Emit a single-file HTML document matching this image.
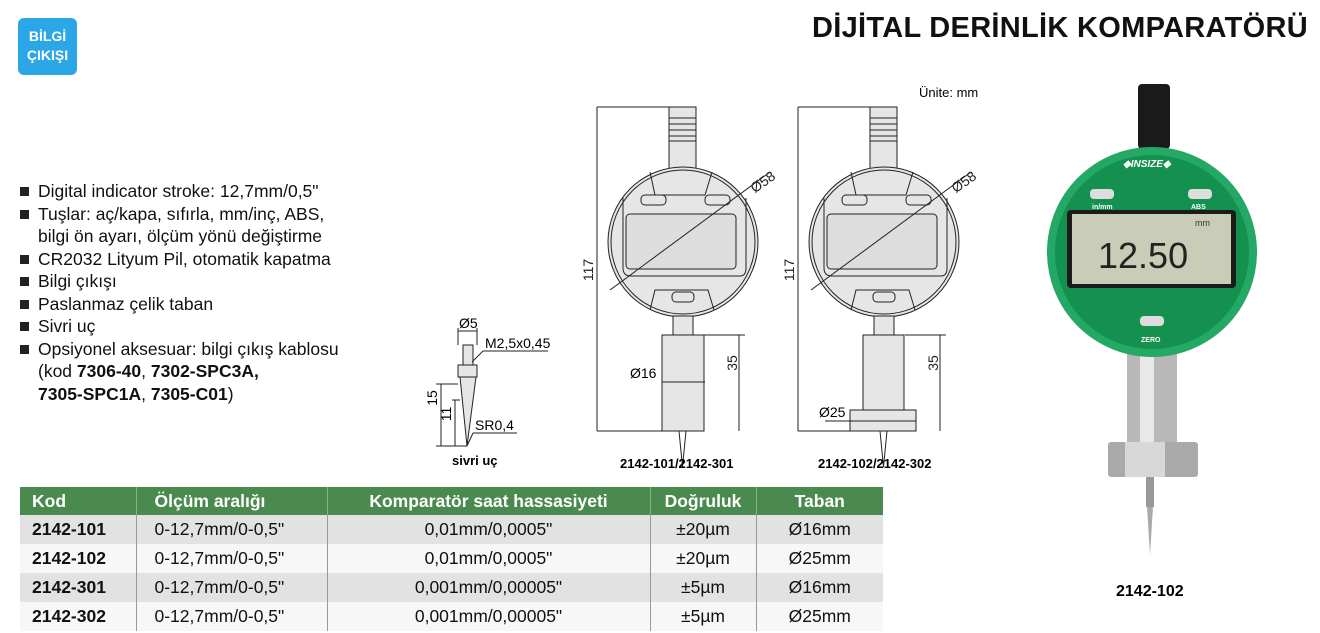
<!DOCTYPE html>
<html><head><meta charset="utf-8"><style>
body{margin:0;width:1320px;height:633px;background:#fff;position:relative;overflow:hidden;font-family:"Liberation Sans",sans-serif;color:#111}
.badge{position:absolute;left:18px;top:18px;width:59px;height:57px;background:#2ba6e6;border-radius:6px;color:#fff;font-weight:bold;font-size:14px;text-align:center;line-height:19px;padding-top:9px;box-sizing:border-box}
.title{position:absolute;right:12px;top:12px;font-size:29px;font-weight:bold;letter-spacing:0.3px}
ul{position:absolute;left:18px;top:180px;margin:0;padding:0;list-style:none;font-size:17.5px;line-height:22.5px}
li{padding-left:20px;position:relative}
li.b:before{content:"";position:absolute;left:2px;top:7px;width:9px;height:9px;background:#222}
table{position:absolute;left:20px;top:487px;border-collapse:collapse;font-size:17.5px;table-layout:fixed;width:863px}
td,th{height:29px;padding:0;text-align:center;box-sizing:border-box;white-space:nowrap;overflow:hidden}
th{background:#4b8a4f;color:#fff;font-weight:bold;height:28px}
td+td{border-left:1px solid #999}
th+th{border-left:1px solid #8ab08c}
tr.g td{background:#e2e2e2}
tr.w td{background:#f7f7f7}
td:first-child{font-weight:bold;text-align:left;padding-left:12px}
</style></head><body>
<div class="badge">BİLGİ<br>ÇIKIŞI</div>
<div class="title">DİJİTAL DERİNLİK KOMPARATÖRÜ</div>
<ul>
<li class="b">Digital indicator stroke: 12,7mm/0,5"</li>
<li class="b">Tuşlar: aç/kapa, sıfırla, mm/inç, ABS,</li>
<li>bilgi ön ayarı, ölçüm yönü değiştirme</li>
<li class="b">CR2032 Lityum Pil, otomatik kapatma</li>
<li class="b">Bilgi çıkışı</li>
<li class="b">Paslanmaz çelik taban</li>
<li class="b">Sivri uç</li>
<li class="b">Opsiyonel aksesuar: bilgi çıkış kablosu</li>
<li>(kod <b>7306-40</b>, <b>7302-SPC3A,</b></li>
<li><b>7305-SPC1A</b>, <b>7305-C01</b>)</li>
</ul>
<table>
<colgroup><col style="width:116px"><col style="width:191px"><col style="width:323px"><col style="width:106px"><col style="width:127px"></colgroup>
<tr><th style="text-align:left;padding-left:12px">Kod</th><th style="text-align:left;padding-left:18px">Ölçüm aralığı</th><th>Komparatör saat hassasiyeti</th><th>Doğruluk</th><th>Taban</th></tr>
<tr class="g"><td>2142-101</td><td style="text-align:left;padding-left:18px">0-12,7mm/0-0,5"</td><td>0,01mm/0,0005"</td><td>±20µm</td><td>Ø16mm</td></tr>
<tr class="w"><td>2142-102</td><td style="text-align:left;padding-left:18px">0-12,7mm/0-0,5"</td><td>0,01mm/0,0005"</td><td>±20µm</td><td>Ø25mm</td></tr>
<tr class="g"><td>2142-301</td><td style="text-align:left;padding-left:18px">0-12,7mm/0-0,5"</td><td>0,001mm/0,00005"</td><td>±5µm</td><td>Ø16mm</td></tr>
<tr class="w"><td>2142-302</td><td style="text-align:left;padding-left:18px">0-12,7mm/0-0,5"</td><td>0,001mm/0,00005"</td><td>±5µm</td><td>Ø25mm</td></tr>
</table>
<svg width="1320" height="633" style="position:absolute;left:0;top:0" font-family="Liberation Sans,sans-serif">
<defs>
<g id="gauge" stroke="#222" fill="#e6e6e6" stroke-width="1">
<rect x="669" y="107" width="27" height="62"/>
<line x1="669" y1="118" x2="696" y2="118"/><line x1="669" y1="124" x2="696" y2="124"/><line x1="669" y1="130" x2="696" y2="130"/><line x1="669" y1="136" x2="696" y2="136"/><line x1="669" y1="141" x2="696" y2="141"/>
<circle cx="683" cy="242" r="75"/>
<circle cx="683" cy="242" r="72" fill="none"/>
<path d="M650 172 L655 195 L705 195 L712 172" fill="none"/>
<rect x="641" y="195" width="25" height="10" rx="4" fill="#e6e6e6"/><rect x="705" y="195" width="25" height="10" rx="4"/>
<path d="M623 198 L623 268 Q623 276 631 276 L740 276 Q746 276 746 268 L746 198" fill="none"/>
<rect x="626" y="214" width="110" height="55" rx="4" fill="#ddd"/>
<path d="M650 310 L655 290 L708 290 L714 310" fill="none"/>
<rect x="672" y="292" width="22" height="10" rx="4"/>
<rect x="673" y="316" width="20" height="19"/>
<line x1="610" y1="290" x2="770" y2="172"/>
<text x="748" y="188" font-size="14" fill="#222" stroke="none" transform="rotate(-35 760 180)">Ø58</text>
<line x1="597" y1="107" x2="669" y2="107"/>
<line x1="597" y1="107" x2="597" y2="431"/>
<text x="593" y="270" font-size="14" fill="#222" stroke="none" transform="rotate(-90 593 270)" text-anchor="middle">117</text>
<path d="M678 431 L687 431 L687 414 L678 414Z" fill="#bbb"/>
<path d="M679 431 L686 431 L682.5 467Z" fill="#fff"/>
<line x1="704" y1="335" x2="745" y2="335"/>
<line x1="739" y1="335" x2="739" y2="431"/>
<text x="737" y="363" font-size="14" fill="#222" stroke="none" transform="rotate(-90 737 363)" text-anchor="middle">35</text>
</g>
</defs>
<use href="#gauge"/>
<use href="#gauge" x="201"/>
<g stroke="#222" fill="#e6e6e6">
<rect x="662" y="335" width="42" height="96"/>
<line x1="597" y1="431" x2="704" y2="431"/>
<line x1="662" y1="382" x2="705" y2="382"/>
<rect x="863" y="335" width="41" height="75"/>
<rect x="850" y="410" width="66" height="21"/>
<line x1="798" y1="431" x2="916" y2="431"/>
<line x1="825" y1="421" x2="916" y2="421"/>
</g>
<text x="630" y="378" font-size="14">Ø16</text>
<text x="819" y="417" font-size="14">Ø25</text>
<text x="620" y="468" font-size="13" font-weight="bold">2142-101/2142-301</text>
<text x="818" y="468" font-size="13" font-weight="bold">2142-102/2142-302</text>
<text x="919" y="97" font-size="13">Ünite: mm</text>
<g stroke="#222" fill="#e6e6e6">
<line x1="458" y1="328" x2="458" y2="345"/><line x1="477" y1="328" x2="477" y2="345"/>
<line x1="458" y1="331" x2="477" y2="331"/>
<rect x="463" y="345" width="10" height="20"/>
<rect x="458" y="365" width="19" height="12"/>
<path d="M460 377 L476 377 L467 446Z"/>
<line x1="472" y1="362" x2="483" y2="351"/><line x1="483" y1="351" x2="548" y2="351"/>
<line x1="436" y1="384" x2="458" y2="384"/><line x1="441" y1="384" x2="441" y2="446"/>
<line x1="452" y1="400" x2="460" y2="400"/><line x1="455" y1="400" x2="455" y2="446"/>
<line x1="436" y1="446" x2="467" y2="446"/>
<line x1="467" y1="446" x2="473" y2="433"/><line x1="473" y1="433" x2="517" y2="433"/>
</g>
<text x="459" y="328" font-size="14">Ø5</text>
<text x="485" y="348" font-size="14">M2,5x0,45</text>
<text x="475" y="430" font-size="14">SR0,4</text>
<text x="437" y="398" font-size="14" transform="rotate(-90 437 398)" text-anchor="middle">15</text>
<text x="451" y="414" font-size="14" transform="rotate(-90 451 414)" text-anchor="middle">11</text>
<text x="452" y="465" font-size="13" font-weight="bold">sivri uç</text>
<rect x="1138" y="84" width="32" height="65" rx="4" fill="#1a1a1a"/>
<rect x="1127" y="350" width="50" height="95" fill="#b8b8b8"/>
<rect x="1140" y="350" width="14" height="95" fill="#e8e8e8"/>
<rect x="1108" y="442" width="90" height="35" rx="3" fill="#aaa"/>
<rect x="1125" y="442" width="40" height="35" fill="#d8d8d8"/>
<rect x="1146" y="477" width="8" height="30" fill="#999"/>
<path d="M1147 507 L1153 507 L1150 555Z" fill="#aaa"/>
<circle cx="1152" cy="252" r="105" fill="#23a866"/>
<circle cx="1152" cy="252" r="97" fill="#14904f"/>
<rect x="1067" y="210" width="169" height="78" rx="4" fill="#1b1b1b"/>
<rect x="1072" y="214" width="159" height="70" fill="#c9cdb8"/>
<text x="1098" y="268" font-size="36" fill="#222">12.50</text>
<text x="1195" y="226" font-size="9" fill="#333">mm</text>
<rect x="1090" y="189" width="24" height="10" rx="4" fill="#ddd"/>
<rect x="1188" y="189" width="24" height="10" rx="4" fill="#ddd"/>
<rect x="1140" y="316" width="24" height="10" rx="4" fill="#ddd"/>
<text x="1092" y="209" font-size="7" fill="#fff" font-weight="bold">in/mm</text>
<text x="1191" y="209" font-size="7" fill="#fff" font-weight="bold">ABS</text>
<text x="1141" y="342" font-size="7" fill="#fff" font-weight="bold">ZERO</text>
<text x="1123" y="167" font-size="10" fill="#fff" font-weight="bold" font-style="italic">◆INSIZE◆</text>
<text x="1116" y="596" font-size="16" font-weight="bold">2142-102</text>
</svg>
</body></html>
